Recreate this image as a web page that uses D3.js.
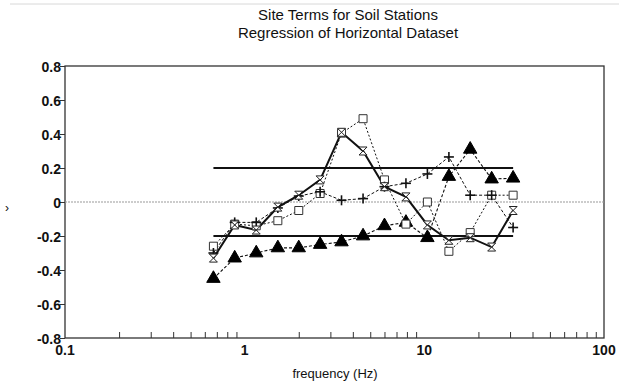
<!DOCTYPE html>
<html>
<head>
<meta charset="utf-8">
<script src="https://cdn.jsdelivr.net/npm/d3@7"></script>
<style>
  body { margin: 0; background: #fff; }
  svg text { font-family: "Liberation Sans", Arial, Helvetica, sans-serif; fill: #111; }
  .tick-label { font-size: 14px; font-weight: bold; }
  .title { font-size: 15px; }
</style>
</head>
<body>
<div id="chart"></div>
<script>
  var width = 619, height = 383;

  // frequencies (Hz) for all stations
  var freqs = [0.67, 0.88, 1.16, 1.53, 2.0, 2.63, 3.46, 4.56, 6.0, 7.9, 10.4, 13.7, 18.0, 23.7, 31.2];

  // site terms
  var triangleVals = [-0.45, -0.33, -0.30, -0.27, -0.27, -0.25, -0.235, -0.20, -0.14, -0.12, -0.21, 0.15, 0.31, 0.135, 0.14];
  var squareVals   = [-0.26, -0.13, -0.14, -0.11, -0.05, 0.05, 0.405, 0.49, 0.13, -0.13, 0.0, -0.29, -0.18, 0.04, 0.04];
  var plusVals     = [-0.30, -0.12, -0.12, -0.035, 0.035, 0.06, 0.01, 0.02, 0.09, 0.11, 0.165, 0.265, 0.04, 0.04, -0.15];
  var hourVals     = [-0.33, -0.135, -0.165, -0.03, 0.04, 0.13, 0.41, 0.30, 0.09, 0.03, -0.135, -0.225, -0.21, -0.265, -0.05];

  var bandLevels = [0.2, -0.2];
  var yTicks = [0.8, 0.6, 0.4, 0.2, 0, -0.2, -0.4, -0.6, -0.8];
  var xTicks = ['0.1', '1', '10', '100'];

  var x = d3.scaleLog().domain([0.1, 100]).range([65, 604]);
  var y = d3.scaleLinear().domain([-0.8, 0.8]).range([338, 66]);

  var svg = d3.select('#chart').append('svg')
    .attr('width', width)
    .attr('height', height);

  // faint scan line at the top
  svg.append('line')
    .attr('x1', 10).attr('x2', 619).attr('y1', 4).attr('y2', 4)
    .attr('stroke', '#d8d8d8').attr('stroke-width', 1);

  //titles
  svg.append('text').attr('class', 'title')
    .attr('x', 348).attr('y', 20).attr('text-anchor', 'middle')
    .text('Site Terms for Soil Stations');
  svg.append('text').attr('class', 'title')
    .attr('x', 348).attr('y', 38).attr('text-anchor', 'middle')
    .text('Regression of Horizontal Dataset');

  //plot frame
  svg.append('rect')
    .attr('x', x(0.1)).attr('y', y(0.8))
    .attr('width', x(100) - x(0.1)).attr('height', y(-0.8) - y(0.8))
    .attr('fill', 'none').attr('stroke', '#333').attr('stroke-width', 1.3);

  //y axis
  var yAxis = d3.axisLeft(y)
    .tickValues(yTicks)
    .tickSize(5)
    .tickFormat(function(d) { return d === 0 ? '0' : d.toFixed(1); });
  var gy = svg.append('g')
    .attr('transform', 'translate(' + x(0.1) + ',0)')
    .call(yAxis);
  gy.select('.domain').remove();
  gy.selectAll('line').attr('stroke', '#333');
  gy.selectAll('text').attr('class', 'tick-label').attr('x', -4).attr('dy', '0.36em');

  //x axis with inward log ticks
  var minor = [];
  [0.1, 1, 10].forEach(function(dec) {
    for (var k = 2; k <= 9; k++) minor.push(dec * k);
  });
  var gx = svg.append('g')
    .attr('transform', 'translate(0,' + y(-0.8) + ')')
    .call(d3.axisBottom(x).tickValues(minor).tickSize(-6).tickFormat(''));
  gx.select('.domain').remove();
  gx.selectAll('line').attr('stroke', '#333');

  svg.append('g').selectAll('text')
    .data(xTicks)
    .enter().append('text')
      .attr('class', 'tick-label')
      .attr('x', function(d) { return x(+d); })
      .attr('y', y(-0.8) + 17)
      .attr('text-anchor', 'middle')
      .text(function(d) { return d; });

  svg.append('text')
    .attr('x', 335).attr('y', 378)
    .attr('text-anchor', 'middle')
    .style('font-size', '13px')
    .text('frequency (Hz)');

  //clipped y label mark
  svg.append('text')
    .attr('x', 5).attr('y', 212)
    .style('font-size', '12px')
    .text('›');

  //zero line
  svg.append('line')
    .attr('x1', x(0.1)).attr('x2', x(100))
    .attr('y1', y(0)).attr('y2', y(0))
    .attr('stroke', '#999').attr('stroke-width', 1)
    .attr('stroke-dasharray', '2,1');

  //+/-0.2 bands
  svg.selectAll('.band')
    .data(bandLevels)
    .enter().append('line')
      .attr('class', 'band')
      .attr('x1', x(freqs[0])).attr('x2', x(freqs[freqs.length - 1]))
      .attr('y1', function(d) { return y(d); })
      .attr('y2', function(d) { return y(d); })
      .attr('stroke', '#111').attr('stroke-width', 2);

  var line = d3.line()
    .x(function(d, i) { return x(freqs[i]); })
    .y(function(d) { return y(d); });

  var hourglass = {
    draw: function(ctx, size) {
      var r = Math.sqrt(size) / 2;
      ctx.moveTo(-r, -r);
      ctx.lineTo(r, -r);
      ctx.lineTo(-r, r);
      ctx.lineTo(r, r);
      ctx.closePath();
    }
  };

  var series = [
    { vals: triangleVals, dash: '3,2', width: 1.1, sym: d3.symbol().type(d3.symbolTriangle).size(78), fill: '#000', stroke: '#000' },
    { vals: squareVals, dash: '2,2', width: 1, sym: d3.symbol().type(d3.symbolSquare).size(64), fill: '#fff', stroke: '#333' },
    { vals: plusVals, dash: '3,2', width: 1, plus: true },
    { vals: hourVals, dash: null, width: 2, sym: d3.symbol().type(hourglass).size(64), fill: '#fff', stroke: '#222' }
  ];

  series.forEach(function(s) {
    svg.append('path')
      .datum(s.vals)
      .attr('d', line)
      .attr('fill', 'none')
      .attr('stroke', '#111')
      .attr('stroke-width', s.width)
      .attr('stroke-dasharray', s.dash);
  });

  series.forEach(function(s) {
    var g = svg.append('g');
    if (s.plus) {
      var pts = g.selectAll('g').data(s.vals).enter().append('g')
        .attr('transform', function(d, i) { return 'translate(' + x(freqs[i]) + ',' + y(d) + ')'; });
      pts.append('line').attr('x1', -5).attr('x2', 5).attr('stroke', '#111').attr('stroke-width', 1.6);
      pts.append('line').attr('y1', -5).attr('y2', 5).attr('stroke', '#111').attr('stroke-width', 1.6);
    } else {
      g.selectAll('path').data(s.vals).enter().append('path')
        .attr('d', s.sym)
        .attr('transform', function(d, i) { return 'translate(' + x(freqs[i]) + ',' + y(d) + ')'; })
        .attr('fill', s.fill)
        .attr('stroke', s.stroke)
        .attr('stroke-width', 1);
    }
  });
</script>
</body>
</html>
